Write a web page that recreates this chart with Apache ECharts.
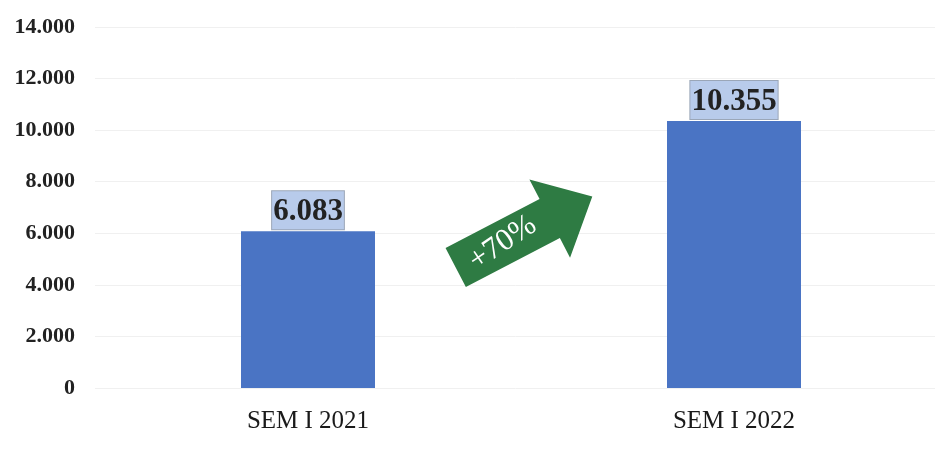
<!DOCTYPE html>
<html>
<head>
<meta charset="utf-8">
<script src="https://cdn.jsdelivr.net/npm/echarts@6/dist/echarts.min.js"></script>
<style>html,body{margin:0;padding:0;background:#fff}#c{width:935px;height:461px}</style>
</head>
<body>
<div id="c"></div>
<script>
const categories = ['SEM I 2021', 'SEM I 2022'];
const values = [6083, 10355];
const growthLabel = '+70%';
const yMin = 0, yMax = 14000, yStep = 2000;

function fmt(v) {
  return String(v).replace(/\B(?=(\d{3})+(?!\d))/g, '.');
}

const chart = echarts.init(document.getElementById('c'));
const serif = '"Liberation Serif", "Times New Roman", serif';
chart.setOption({
  animation: false,
  backgroundColor: '#ffffff',
  grid: { left: 95, width: 852, top: 27, bottom: 73, outerBoundsMode: 'none', containLabel: false },
  xAxis: {
    type: 'category',
    data: categories,
    axisLine: { show: false },
    axisTick: { show: false },
    axisLabel: { color: '#1a1a1a', fontFamily: serif, fontSize: 25, margin: 21 }
  },
  yAxis: {
    type: 'value',
    min: yMin, max: yMax, interval: yStep,
    axisLine: { show: false },
    axisTick: { show: false },
    splitLine: { lineStyle: { color: '#f0f0f0', width: 1 } },
    axisLabel: { color: '#222', fontFamily: serif, fontWeight: 'bold', fontSize: 22, margin: 20, formatter: fmt }
  },
  series: [{
    type: 'bar',
    data: values,
    barWidth: 134,
    itemStyle: { color: '#4a74c4' },
    label: {
      show: true,
      position: 'top',
      distance: 2,
      formatter: p => fmt(p.value),
      fontFamily: serif,
      fontWeight: 'bold',
      fontSize: 31,
      color: '#222',
      backgroundColor: '#b8cbeb',
      borderColor: '#9aa6b8',
      borderWidth: 1,
      padding: [5, 1, 2, 1]
    }
  }],
  graphic: [{
    type: 'group',
    x: 524, y: 232,
    rotation: 0.48,
    z: 100,
    children: [{
      type: 'polygon',
      z: 100,
      shape: { points: [[-77, -22], [29, -22], [29, -44], [77, 0], [29, 44], [29, 22], [-77, 22]] },
      style: { fill: '#2e7b43' }
    }, {
      type: 'text',
      z: 101,
      x: -24, y: 0,
      rotation: 0.12,
      style: { text: growthLabel, fill: '#ffffff', font: '31px "Liberation Serif", serif', align: 'center', verticalAlign: 'middle' }
    }]
  }]
});
</script>
</body>
</html>
